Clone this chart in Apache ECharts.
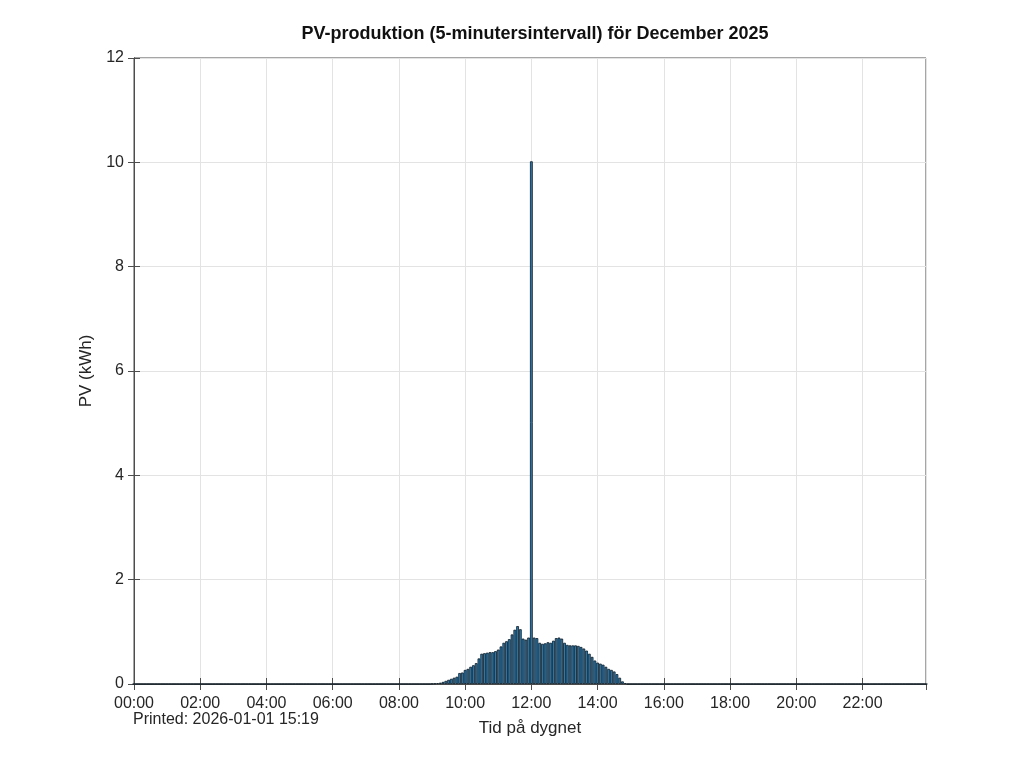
<!DOCTYPE html>
<html lang="sv">
<head>
	<meta charset="UTF-8">
	<title>PV-produktion december 2025</title>
	<script src="https://cdn.jsdelivr.net/npm/echarts@6/dist/echarts.min.js"></script>
	<style>
		html, body { margin: 0; padding: 0; background: #fff; }
		#main { width: 1024px; height: 768px; }
	</style>
</head>
<body>
	<div id="main"></div>
	<script>
		// 5-minutersintervall, 288 per dygn (en rad = en timme)
		var pvValues = [
			0, 0, 0, 0, 0, 0, 0, 0, 0, 0, 0, 0,
			0, 0, 0, 0, 0, 0, 0, 0, 0, 0, 0, 0,
			0, 0, 0, 0, 0, 0, 0, 0, 0, 0, 0, 0,
			0, 0, 0, 0, 0, 0, 0, 0, 0, 0, 0, 0,
			0, 0, 0, 0, 0, 0, 0, 0, 0, 0, 0, 0,
			0, 0, 0, 0, 0, 0, 0, 0, 0, 0, 0, 0,
			0, 0, 0, 0, 0, 0, 0, 0, 0, 0, 0, 0,
			0, 0, 0, 0, 0, 0, 0, 0, 0, 0, 0, 0,
			0, 0, 0, 0, 0, 0, 0, 0, 0, 0, 0, 0,
			0.005, 0.01, 0.015, 0.025, 0.04, 0.06, 0.08, 0.10, 0.12, 0.14, 0.21, 0.22,
			0.27, 0.29, 0.33, 0.36, 0.40, 0.49, 0.58, 0.59, 0.60, 0.61, 0.61, 0.63,
			0.66, 0.72, 0.79, 0.82, 0.86, 0.95, 1.04, 1.11, 1.05, 0.87, 0.85, 0.89,
			10.02, 0.89, 0.88, 0.79, 0.77, 0.78, 0.80, 0.79, 0.83, 0.88, 0.89, 0.87,
			0.79, 0.75, 0.74, 0.74, 0.74, 0.73, 0.71, 0.68, 0.64, 0.58, 0.52, 0.45,
			0.41, 0.39, 0.37, 0.33, 0.29, 0.27, 0.24, 0.19, 0.12, 0.05, 0.015, 0,
			0, 0, 0, 0, 0, 0, 0, 0, 0, 0, 0, 0,
			0, 0, 0, 0, 0, 0, 0, 0, 0, 0, 0, 0,
			0, 0, 0, 0, 0, 0, 0, 0, 0, 0, 0, 0,
			0, 0, 0, 0, 0, 0, 0, 0, 0, 0, 0, 0,
			0, 0, 0, 0, 0, 0, 0, 0, 0, 0, 0, 0,
			0, 0, 0, 0, 0, 0, 0, 0, 0, 0, 0, 0,
			0, 0, 0, 0, 0, 0, 0, 0, 0, 0, 0, 0,
			0, 0, 0, 0, 0, 0, 0, 0, 0, 0, 0, 0,
			0, 0, 0, 0, 0, 0, 0, 0, 0, 0, 0, 0
		];
		var stepMinutes = 5;
		var xTickMinutes = 120;
		var yTicks = [0, 2, 4, 6, 8, 10, 12];

		var titleText = 'PV-produktion (5-minutersintervall) för December 2025';
		var xName = 'Tid på dygnet';
		var yName = 'PV (kWh)';
		var printedText = 'Printed: 2026-01-01 15:19';

		function hhmm(min) {
			var h = Math.floor(min / 60), m = min % 60;
			return (h < 10 ? '0' : '') + h + ':' + (m < 10 ? '0' : '') + m;
		}

		var seriesData = pvValues.map(function (v, i) {
			return [i * stepMinutes, v];
		});

		var textColor = '#262626';
		var font = 'Liberation Sans';
		var axisColor = '#4d4d4d';
		var gridColor = '#e3e3e3';
		var xMax = (pvValues.length - 1) * stepMinutes;

		var myChart = echarts.init(document.getElementById('main'));
		myChart.setOption({
			animation: false,
			backgroundColor: '#fff',
			textStyle: { fontFamily: font, color: textColor },
			title: {
				text: titleText,
				left: 530,
				textAlign: 'center',
				top: 20,
				textStyle: { fontFamily: font, fontSize: 18, fontWeight: 'bold', color: '#111' }
			},
			graphic: [{
				type: 'text',
				left: 133,
				top: 712,
				style: { text: printedText, font: '16px "Liberation Sans"', fill: textColor }
			}],
			grid: {
				left: 134, right: 98, top: 58, bottom: 84,
				show: true, borderColor: axisColor, borderWidth: 1, backgroundColor: 'transparent'
			},
			xAxis: [{
				type: 'value',
				min: 0,
				max: xMax,
				interval: xTickMinutes,
				name: xName,
				nameLocation: 'middle',
				nameGap: 36,
				nameTextStyle: { fontSize: 17, color: textColor, fontFamily: font },
				axisLine: { show: true, onZero: false, lineStyle: { color: axisColor, width: 1 } },
				axisTick: { show: true, inside: true, length: 6, lineStyle: { color: axisColor } },
				axisLabel: {
					fontSize: 16, color: textColor, margin: 12, showMaxLabel: false,
					formatter: function (v) { return hhmm(v); }
				},
				splitLine: { show: true, lineStyle: { color: gridColor, width: 1 } }
			}, {
				type: 'value',
				position: 'top',
				min: 0,
				max: xMax,
				interval: xTickMinutes,
				axisLine: { show: true, lineStyle: { color: axisColor, width: 1 } },
				axisTick: { show: true, inside: true, length: 6, lineStyle: { color: axisColor } },
				axisLabel: { show: false },
				splitLine: { show: false }
			}],
			yAxis: [{
				type: 'value',
				min: yTicks[0],
				max: yTicks[yTicks.length - 1],
				interval: yTicks[1] - yTicks[0],
				name: yName,
				nameLocation: 'middle',
				nameGap: 36,
				nameRotate: 90,
				nameTextStyle: { fontSize: 17, color: textColor, fontFamily: font },
				axisLine: { show: true, lineStyle: { color: axisColor, width: 1 } },
				axisTick: { show: true, inside: true, length: 6, lineStyle: { color: axisColor } },
				axisLabel: { fontSize: 16, color: textColor, margin: 10 },
				splitLine: { show: true, lineStyle: { color: gridColor, width: 1 } }
			}, {
				type: 'value',
				position: 'right',
				min: yTicks[0],
				max: yTicks[yTicks.length - 1],
				interval: yTicks[1] - yTicks[0],
				axisLine: { show: true, lineStyle: { color: axisColor, width: 1 } },
				axisTick: { show: true, inside: true, length: 6, lineStyle: { color: axisColor } },
				axisLabel: { show: false },
				splitLine: { show: false }
			}],
			series: [{
				name: 'PV',
				type: 'bar',
				xAxisIndex: 0,
				yAxisIndex: 0,
				barWidth: 2.76,
				itemStyle: { color: '#2a7db5', borderColor: '#0d1a24', borderWidth: 0.8 },
				data: seriesData
			}, {
				// tom serie så att övre/högra axeln ritas med ticks
				name: 'ram',
				type: 'line',
				xAxisIndex: 1,
				yAxisIndex: 1,
				silent: true,
				showSymbol: false,
				lineStyle: { opacity: 0 },
				data: []
			}]
		});
	</script>
</body>
</html>
